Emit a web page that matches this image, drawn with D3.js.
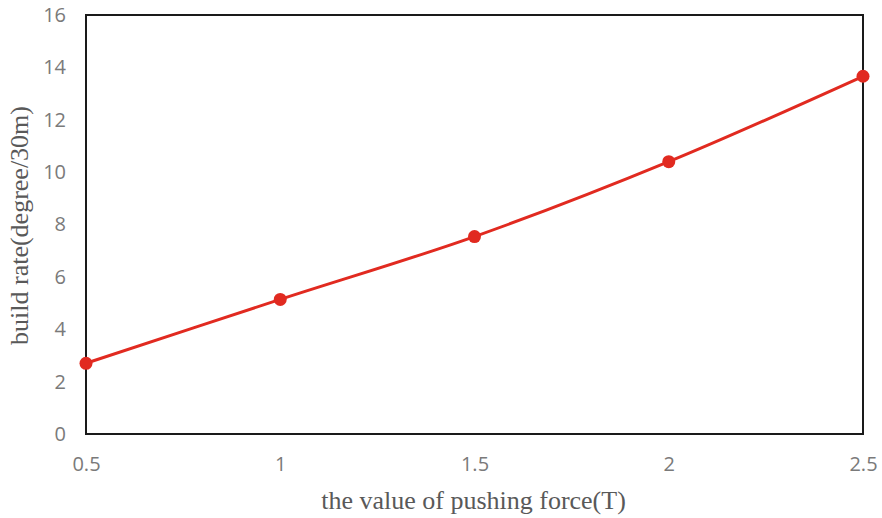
<!DOCTYPE html>
<html>
<head>
<meta charset="utf-8">
<script src="https://cdn.jsdelivr.net/npm/d3@7"></script>
<style>
  html, body { margin: 0; padding: 0; background: #fff; }
  svg { display: block; }
</style>
</head>
<body>
<svg id="chart" width="882" height="518"></svg>
<script>
// Pushing force (T) vs. build rate (degree/30m)
const forces = [0.5, 1, 1.5, 2, 2.5];
const buildRates = [2.70, 5.14, 7.54, 10.40, 13.66];
const xTicks = [0.5, 1, 1.5, 2, 2.5];
const yTicks = [0, 2, 4, 6, 8, 10, 12, 14, 16];

const svg = d3.select("#chart");
const margin = { left: 86, top: 15, right: 19, bottom: 84 };
const W = 882, H = 518;

const x = d3.scaleLinear().domain([0.5, 2.5]).range([margin.left, W - margin.right]);
const y = d3.scaleLinear().domain([0, 16]).range([H - margin.bottom, margin.top]);

// Plot frame
svg.append("rect")
  .attr("x", x(0.5)).attr("y", y(16))
  .attr("width", x(2.5) - x(0.5)).attr("height", y(0) - y(16))
  .attr("fill", "none").attr("stroke", "#1a1a1a").attr("stroke-width", 2);

// Axes (labels only, no tick marks)
const tickFont = "'Open Sans', 'Noto Sans', sans-serif";
const xAxis = svg.append("g")
  .attr("transform", `translate(0,${y(0)})`)
  .call(d3.axisBottom(x).tickValues(xTicks).tickSize(0).tickPadding(23)
    .tickFormat(d3.format("")));
const yAxis = svg.append("g")
  .attr("transform", `translate(${x(0.5)},0)`)
  .call(d3.axisLeft(y).tickValues(yTicks).tickSize(0).tickPadding(20));
[xAxis, yAxis].forEach(g => {
  g.attr("font-size", null).attr("font-family", null);
  g.select(".domain").remove();
  g.selectAll("text")
    .attr("fill", "#7a7a7a")
    .style("font-family", tickFont)
    .style("font-size", "20px");
});

// Axis titles
const titleFont = "'Liberation Serif', 'DejaVu Serif', serif";
svg.append("text")
  .attr("x", (x(0.5) + x(2.5)) / 2 - 1).attr("y", 509)
  .attr("text-anchor", "middle")
  .attr("fill", "#595959")
  .style("font-family", titleFont)
  .style("font-size", "26px")
  .text("the value of pushing force(T)");

svg.append("text")
  .attr("transform", `translate(28,${(y(0) + y(16)) / 2 + 1}) rotate(-90)`)
  .attr("text-anchor", "middle")
  .attr("fill", "#595959")
  .style("font-family", titleFont)
  .style("font-size", "26px")
  .text("build rate(degree/30m)");

// Data series
const pts = forces.map((f, i) => [f, buildRates[i]]);
const line = d3.line().x(d => x(d[0])).y(d => y(d[1])).curve(d3.curveCatmullRom.alpha(0.5));
const red = "#e12a20";

svg.append("path")
  .datum(pts)
  .attr("d", line)
  .attr("fill", "none")
  .attr("stroke", red)
  .attr("stroke-width", 3);

svg.selectAll("circle.pt")
  .data(pts)
  .join("circle")
  .attr("class", "pt")
  .attr("cx", d => x(d[0]))
  .attr("cy", d => y(d[1]))
  .attr("r", 6.5)
  .attr("fill", red);
</script>
</body>
</html>
